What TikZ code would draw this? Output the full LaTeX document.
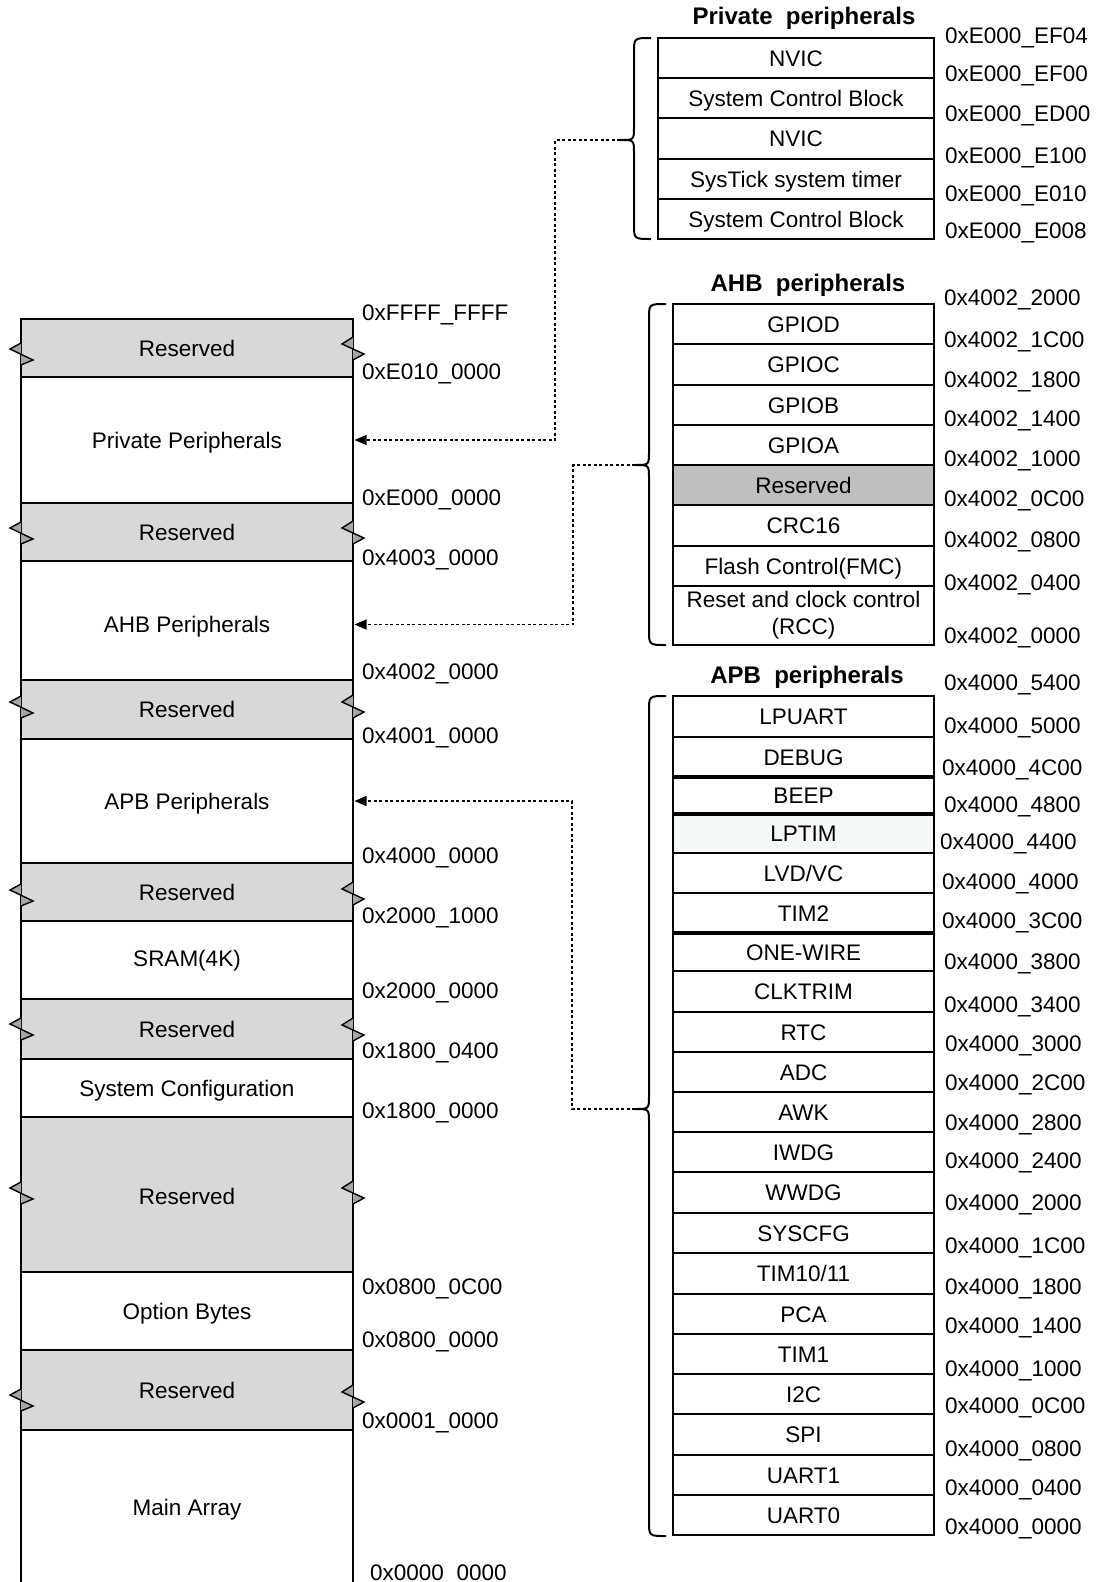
\documentclass[tikz,border=0pt]{standalone}
\usepackage{fontspec}
\setmainfont{Liberation Sans}
\usetikzlibrary{arrows.meta}
\definecolor{resgray}{HTML}{D8D8D8}
\definecolor{resdark}{HTML}{BFBFBF}
\definecolor{tintlp}{HTML}{F5FAF7}
\definecolor{mkgray}{HTML}{A6A6A6}
% name, top, bottom, style, text
\newcommand\colrow[5]{\node[colbox,#4,minimum height={(#3-#2)*1pt}] (#1) at (187,{(#2+#3)/2}) {#5};}
% name, x1, x2, top, bottom, style, text
\newcommand\tabrow[7]{\node[cell,#6,minimum width={(#3-#2)*1pt},minimum height={(#5-#4)*1pt}] (#1) at ({(#2+#3)/2},{(#4+#5)/2}) {#7};}
% name, x, y, text
\newcommand\addrlbl[4]{\node[addr] (#1) at (#2,#3) {#4};}
\newcommand\lbrk[1]{\filldraw[brk] (21,{#1-11}) -- (10,{#1-5}) -- (33,{#1+6}) -- (21,{#1+11});}
\newcommand\rbrk[1]{\filldraw[brk] (353,{#1-12}) -- (342,{#1-5}) -- (364,{#1+5}) -- (353,{#1+11});}
% xv, y1, ym, y2, name of tip
\newcommand\mybrace[5]{%
  \draw[bracel] ({#1+17},#2) .. controls (#1,#2) .. (#1,{#2+15}) -- (#1,{#3-13})
    .. controls (#1,#3) .. ({#1-14},#3) .. controls (#1,#3) .. (#1,{#3+13})
    -- (#1,{#4-15}) .. controls (#1,#4) .. ({#1+17},#4);
  \coordinate (#5) at ({#1-14},#3);}
\begin{document}
\begin{tikzpicture}[x=1pt,y=-1pt,font=\fontsize{22.5}{27}\selectfont,
  colbox/.style={draw, line width=2.8pt, minimum width=332pt, inner sep=0pt, outer sep=0pt, text height=16pt, text depth=0pt},
  res/.style={fill=resgray},
  cellbase/.style={draw, line width=2pt, inner sep=0pt, outer sep=0pt},
  cell/.style={cellbase, text height=16pt, text depth=0pt},
  addr/.style={anchor=west, inner sep=0pt, text height=16pt, text depth=0pt},
  ttl/.style={font=\fontsize{24}{28}\selectfont\bfseries, inner sep=0pt, text height=17pt, text depth=0pt},
  brk/.style={fill=mkgray, draw=black, line width=1.4pt, line join=miter},
  bracel/.style={line width=2pt},
  conn/.style={line width=1.5pt, dash pattern=on 3pt off 2.5pt, -{Triangle[length=12pt,width=10pt]}, shorten >=1.5pt}
]
\useasboundingbox (0,0) rectangle (1098,1582);

% ---------------- left memory map ----------------
\colrow{r1}{319}{377}{res}{Reserved}
\colrow{pp}{377}{503}{}{Private Peripherals}
\colrow{r2}{503}{561}{res}{Reserved}
\colrow{ahb}{561}{680}{text height=24pt}{AHB Peripherals}
\colrow{r3}{680}{739}{res}{Reserved}
\colrow{apb}{739}{863}{}{APB Peripherals}
\colrow{r4}{863}{921}{res}{Reserved}
\colrow{sram}{921}{999}{text depth=4pt}{SRAM(4K)}
\colrow{r5}{999}{1059}{res}{Reserved}
\colrow{sysc}{1059}{1117}{}{System Configuration}
\colrow{r6}{1117}{1272}{res,text height=20pt}{Reserved}
\colrow{opt}{1272}{1350}{}{Option Bytes}
\colrow{r7}{1350}{1430}{res}{Reserved}
\colrow{mainarr}{1430}{1584}{draw=none}{Main Array}
\draw[line width=2.8pt] (mainarr.north west) -- (mainarr.south west);
\draw[line width=2.8pt] (mainarr.north east) -- (mainarr.south east);

\lbrk{354}\rbrk{349}
\lbrk{533}\rbrk{533}
\lbrk{707}\rbrk{707}
\lbrk{895}\rbrk{894}
\lbrk{1029}\rbrk{1030}
\lbrk{1193}\rbrk{1193}
\lbrk{1400}\rbrk{1397}

\addrlbl{a1}{362}{312}{0xFFFF\_FFFF}
\addrlbl{a2}{362}{371}{0xE010\_0000}
\addrlbl{a3}{362}{497}{0xE000\_0000}
\addrlbl{a4}{362}{557}{0x4003\_0000}
\addrlbl{a5}{362}{671}{0x4002\_0000}
\addrlbl{a6}{362}{735}{0x4001\_0000}
\addrlbl{a7}{362}{855}{0x4000\_0000}
\addrlbl{a8}{362}{915}{0x2000\_1000}
\addrlbl{a9}{362}{990}{0x2000\_0000}
\addrlbl{a10}{362}{1050}{0x1800\_0400}
\addrlbl{a11}{362}{1110}{0x1800\_0000}
\addrlbl{a12}{362}{1286}{0x0800\_0C00}
\addrlbl{a13}{362}{1339}{0x0800\_0000}
\addrlbl{a14}{362}{1420}{0x0001\_0000}
\addrlbl{a15}{370}{1572}{0x0000\_0000}

% ---------------- private peripherals ----------------
\node[ttl] (tp) at (804,16) {Private~~peripherals};
\tabrow{p1}{658}{934}{38}{78}{}{NVIC}
\tabrow{p2}{658}{934}{78}{118}{}{System Control Block}
\tabrow{p3}{658}{934}{118}{159}{}{NVIC}
\tabrow{p4}{658}{934}{159}{199}{}{SysTick system timer}
\tabrow{p5}{658}{934}{199}{239}{}{System Control Block}
\addrlbl{pa1}{945}{35}{0xE000\_EF04}
\addrlbl{pa2}{945}{73}{0xE000\_EF00}
\addrlbl{pa3}{945}{113}{0xE000\_ED00}
\addrlbl{pa4}{945}{155}{0xE000\_E100}
\addrlbl{pa5}{945}{193}{0xE000\_E010}
\addrlbl{pa6}{945}{230}{0xE000\_E008}
\mybrace{634}{38}{140}{239}{ptip}

% ---------------- AHB peripherals ----------------
\node[ttl] (ta) at (808,283) {AHB~~peripherals};
\tabrow{h1}{673}{934}{304}{344}{}{GPIOD}
\tabrow{h2}{673}{934}{344}{385}{}{GPIOC}
\tabrow{h3}{673}{934}{385}{425}{}{GPIOB}
\tabrow{h4}{673}{934}{425}{465}{}{GPIOA}
\tabrow{h5}{673}{934}{465}{505}{fill=resdark}{Reserved}
\tabrow{h6}{673}{934}{505}{546}{}{CRC16}
\tabrow{h7}{673}{934}{546}{586}{}{Flash Control(FMC)}
\node[cellbase, align=center, minimum width=261pt, minimum height=59pt, font=\fontsize{22.5}{27}\selectfont] (h8) at (803.5,615.5) {Reset and clock control\\(RCC)};
\addrlbl{ha1}{944}{297}{0x4002\_2000}
\addrlbl{ha2}{944}{339}{0x4002\_1C00}
\addrlbl{ha3}{944}{379}{0x4002\_1800}
\addrlbl{ha4}{944}{418}{0x4002\_1400}
\addrlbl{ha5}{944}{458}{0x4002\_1000}
\addrlbl{ha6}{944}{498}{0x4002\_0C00}
\addrlbl{ha7}{944}{539}{0x4002\_0800}
\addrlbl{ha8}{944}{582}{0x4002\_0400}
\addrlbl{ha9}{944}{635}{0x4002\_0000}
\mybrace{649}{304}{465}{645}{atip}

% ---------------- APB peripherals ----------------
\node[ttl] (tb) at (807,675) {APB~~peripherals};
\tabrow{b1}{673}{934}{696}{737}{}{LPUART}
\tabrow{b2}{673}{934}{737}{777}{}{DEBUG}
\tabrow{b3}{673}{934}{777}{814}{}{BEEP}
\tabrow{b4}{673}{934}{814}{853}{fill=tintlp}{LPTIM}
\tabrow{b5}{673}{934}{853}{893}{}{LVD/VC}
\tabrow{b6}{673}{934}{893}{933}{}{TIM2}
\tabrow{b7}{673}{934}{933}{971}{}{ONE-WIRE}
\tabrow{b8}{673}{934}{971}{1012}{}{CLKTRIM}
\tabrow{b9}{673}{934}{1012}{1052}{}{RTC}
\tabrow{b10}{673}{934}{1052}{1092}{}{ADC}
\tabrow{b11}{673}{934}{1092}{1132}{}{AWK}
\tabrow{b12}{673}{934}{1132}{1172}{}{IWDG}
\tabrow{b13}{673}{934}{1172}{1213}{}{WWDG}
\tabrow{b14}{673}{934}{1213}{1253}{}{SYSCFG}
\tabrow{b15}{673}{934}{1253}{1294}{}{TIM10/11}
\tabrow{b16}{673}{934}{1294}{1334}{}{PCA}
\tabrow{b17}{673}{934}{1334}{1374}{}{TIM1}
\tabrow{b18}{673}{934}{1374}{1414}{}{I2C}
\tabrow{b19}{673}{934}{1414}{1455}{}{SPI}
\tabrow{b20}{673}{934}{1455}{1495}{}{UART1}
\tabrow{b21}{673}{934}{1495}{1535}{}{UART0}
\draw[line width=4.5pt] (b2.south west) -- (b2.south east);
\draw[line width=4.5pt] (b3.south west) -- (b3.south east);
\draw[line width=4.5pt] (b6.south west) -- (b6.south east);
\addrlbl{ba1}{944}{682}{0x4000\_5400}
\addrlbl{ba2}{944}{725}{0x4000\_5000}
\addrlbl{ba3}{942}{767}{0x4000\_4C00}
\addrlbl{ba4}{944}{804}{0x4000\_4800}
\addrlbl{ba5}{940}{841}{0x4000\_4400}
\addrlbl{ba6}{942}{881}{0x4000\_4000}
\addrlbl{ba7}{942}{920}{0x4000\_3C00}
\addrlbl{ba8}{944}{961}{0x4000\_3800}
\addrlbl{ba9}{944}{1004}{0x4000\_3400}
\addrlbl{ba10}{945}{1043}{0x4000\_3000}
\addrlbl{ba11}{945}{1082}{0x4000\_2C00}
\addrlbl{ba12}{945}{1122}{0x4000\_2800}
\addrlbl{ba13}{945}{1160}{0x4000\_2400}
\addrlbl{ba14}{945}{1202}{0x4000\_2000}
\addrlbl{ba15}{945}{1245}{0x4000\_1C00}
\addrlbl{ba16}{945}{1286}{0x4000\_1800}
\addrlbl{ba17}{945}{1325}{0x4000\_1400}
\addrlbl{ba18}{945}{1368}{0x4000\_1000}
\addrlbl{ba19}{945}{1405}{0x4000\_0C00}
\addrlbl{ba20}{945}{1448}{0x4000\_0800}
\addrlbl{ba21}{945}{1487}{0x4000\_0400}
\addrlbl{ba22}{945}{1526}{0x4000\_0000}
\mybrace{649}{696}{1109}{1536}{btip}

% ---------------- connectors ----------------
\draw[conn] (ptip) -- ++(-65,0) |- (pp.east);
\draw[conn] (atip) -- ++(-62,0) |- ([yshift=-4pt]ahb.east);
\draw[conn] (btip) -- ++(-63,0) |- (apb.east);
\end{tikzpicture}
\end{document}
